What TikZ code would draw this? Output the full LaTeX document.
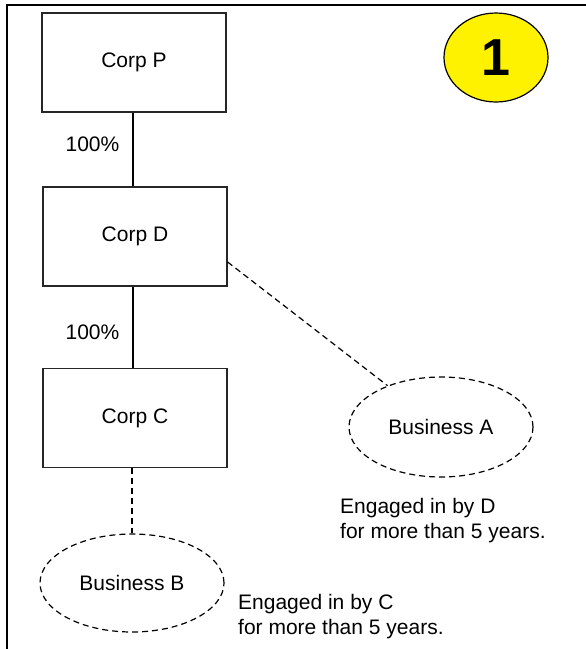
\documentclass[tikz,border=0pt]{standalone}
\usepackage{fontspec}
\setmainfont{Liberation Sans}
\usetikzlibrary{shapes.geometric}
\begin{document}
\begin{tikzpicture}[x=1pt,y=-1pt,
  txt/.style={font=\fontsize{21}{25}\selectfont},
  corpbox/.style={draw=black!85, line width=1.2pt, minimum width=184pt, minimum height=99pt, inner sep=0pt, txt},
  bizell/.style={ellipse, draw, dash pattern=on 6pt off 4pt, line width=1.2pt, minimum width=184pt, minimum height=100pt, inner sep=0pt, txt},
  solidconn/.style={line width=1.6pt},
  dashconn/.style={line width=1.2pt, dash pattern=on 6pt off 4pt},
  pct/.style={txt, inner sep=0pt, anchor=east},
  note/.style={txt, inner sep=0pt, anchor=north west, align=left}]
\useasboundingbox (0,0) rectangle (586,649);
\fill[white] (0,0) rectangle (586,649);
\draw[line width=2pt] (7,649) -- (7,5) -- (586,5);

\node[corpbox] (P) at (134,62.5) {Corp P};
\node[corpbox] (D) at (135,236.5) {Corp D};
\node[corpbox] (C) at (135,418) {Corp C};

\node[bizell] (A) at (441,427) {Business A};
\node[bizell, minimum height=98pt] (B) at (132,583) {Business B};

\node[ellipse, draw, fill=yellow, line width=1.2pt, minimum width=104pt, minimum height=89pt, inner sep=0pt] (one) at (496,57.5) {\fontsize{52}{52}\selectfont\bfseries 1};

\draw[solidconn] (P.south -| 133,0) -- (D.north -| 133,0);
\draw[solidconn] (D.south -| 133,0) -- (C.north -| 133,0);
\node[pct] (l1) at (119.5,144.5) {100\%};
\node[pct] (l2) at (119.5,332.5) {100\%};

\draw[dashconn] ([yshift=-25.5pt]D.east) -- (A);
\draw[dashconn] (C.south -| B.north) -- (B.north);

\node[note] (nA) at (340,498.5) {Engaged in by D\\for more than 5 years.};
\node[note] (nB) at (238,594.5) {Engaged in by C\\for more than 5 years.};
\end{tikzpicture}
\end{document}
